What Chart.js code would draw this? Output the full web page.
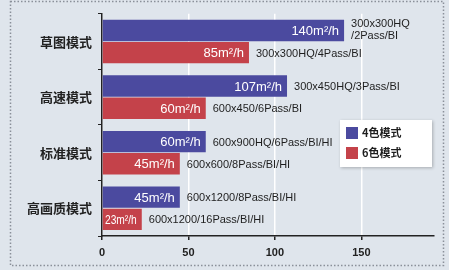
<!DOCTYPE html>
<html><head><meta charset="utf-8">
<script src="https://cdn.jsdelivr.net/npm/chart.js@4/dist/chart.umd.min.js"></script>
<style>html,body{margin:0;padding:0;background:#fff}#w{width:449px;height:270px}</style>
</head><body><div id="w"><canvas id="c" width="449" height="270"></canvas></div>
<script>
const categories = ["草图模式", "高速模式", "标准模式", "高画质模式"];
const seriesNames = ["4色模式", "6色模式"];
const fourColor = [140, 107, 60, 45];
const sixColor = [85, 60, 45, 23];
const fourValueLabels = ["140m²/h", "107m²/h", "60m²/h", "45m²/h"];
const sixValueLabels = ["85m²/h", "60m²/h", "45m²/h", "23m²/h"];
const fourNotes = [["300x300HQ", "/2Pass/BI"], ["300x450HQ/3Pass/BI"], ["600x900HQ/6Pass/BI/HI"], ["600x1200/8Pass/BI/HI"]];
const sixNotes = [["300x300HQ/4Pass/BI"], ["600x450/6Pass/BI"], ["600x600/8Pass/BI/HI"], ["600x1200/16Pass/BI/HI"]];
const xTicks = [0, 50, 100, 150];

const BLUE = '#4b4a9f', RED = '#c4424a';

const decor = {
  id: 'decor',
  beforeDraw(chart) {
    const ctx = chart.ctx;
    ctx.save();
    ctx.fillStyle = '#dfe5ec';
    ctx.fillRect(0, 0, 449, 270);
    ctx.strokeStyle = '#8a9099';
    ctx.lineWidth = 1.5;
    ctx.setLineDash([1.5, 2]);
    ctx.strokeRect(10.5, 1.5, 433, 264);
    ctx.restore();
  },
  afterDatasetsDraw(chart) {
    const ctx = chart.ctx;
    ctx.save();
    const vals = [fourValueLabels, sixValueLabels];
    const notes = [fourNotes, sixNotes];
    const left = chart.chartArea.left;
    chart.data.datasets.forEach((ds, di) => {
      const meta = chart.getDatasetMeta(di);
      meta.data.forEach((bar, i) => {
        ctx.font = '13px "Liberation Sans", Arial, sans-serif';
        ctx.fillStyle = '#ffffff';
        ctx.textAlign = 'right';
        ctx.textBaseline = 'middle';
        ctx.fillText(vals[di][i], bar.x - 5, bar.y + 1, bar.x - left - 8);
        ctx.font = '11px "Liberation Sans", Arial, sans-serif';
        ctx.fillStyle = '#1e1e1e';
        ctx.textAlign = 'left';
        const lines = notes[di][i];
        const lh = 12;
        lines.forEach((t, k) => {
          ctx.fillText(t, bar.x + 7, bar.y + 1 + (k - (lines.length - 1) / 2) * lh - (lines.length > 1 ? 1 : 0));
        });
      });
    });
    // legend
    const lx = 340, ly = 120, lw = 92, lh = 47;
    ctx.fillStyle = '#ffffff';
    ctx.shadowColor = 'rgba(0,0,0,0.25)';
    ctx.shadowBlur = 3;
    ctx.shadowOffsetX = 1; ctx.shadowOffsetY = 1;
    ctx.fillRect(lx, ly, lw, lh);
    ctx.shadowColor = 'transparent';
    chart.data.datasets.forEach((ds, di) => {
      const y = ly + 13 + di * 20;
      ctx.fillStyle = ds.backgroundColor;
      ctx.fillRect(lx + 6, y - 6, 12, 12);
      ctx.fillStyle = '#1e1e1e';
      ctx.font = 'bold 11px "Noto Sans CJK SC", sans-serif';
      ctx.textAlign = 'left';
      ctx.textBaseline = 'middle';
      ctx.fillText(ds.label, lx + 22, y);
    });
    ctx.restore();
  }
};

new Chart(document.getElementById('c'), {
  type: 'bar',
  data: {
    labels: categories,
    datasets: [
      { label: seriesNames[0], data: fourColor, backgroundColor: BLUE },
      { label: seriesNames[1], data: sixColor, backgroundColor: RED }
    ]
  },
  options: {
    indexAxis: 'y',
    responsive: false,
    animation: false,
    devicePixelRatio: 1,
    layout: { padding: { top: 11, right: 15, left: 0, bottom: 0 } },
    datasets: { bar: { categoryPercentage: 0.8, barPercentage: 0.96 } },
    plugins: { legend: { display: false }, tooltip: { enabled: false } },
    scales: {
      x: {
        min: 0, max: 192,
        afterBuildTicks(s) { s.ticks = xTicks.map(v => ({ value: v })); },
        afterFit(s) { s.height = 34; },
        grid: { color: '#ffffff', lineWidth: 1.5, tickColor: '#222', tickLength: 4, drawTicks: true },
        border: { color: '#222', width: 1.5 },
        ticks: { color: '#222', font: { size: 11, weight: 'bold', family: '"Liberation Sans", Arial, sans-serif' }, padding: 6 }
      },
      y: {
        afterFit(s) { s.width = 102; },
        grid: { drawOnChartArea: false, color: '#222', tickLength: 4, offset: true },
        border: { color: '#222', width: 1.5 },
        ticks: { color: '#222', font: { size: 13, weight: 'bold', family: '"Noto Sans CJK SC", sans-serif' }, padding: 6 }
      }
    }
  },
  plugins: [decor]
});
</script></body></html>
